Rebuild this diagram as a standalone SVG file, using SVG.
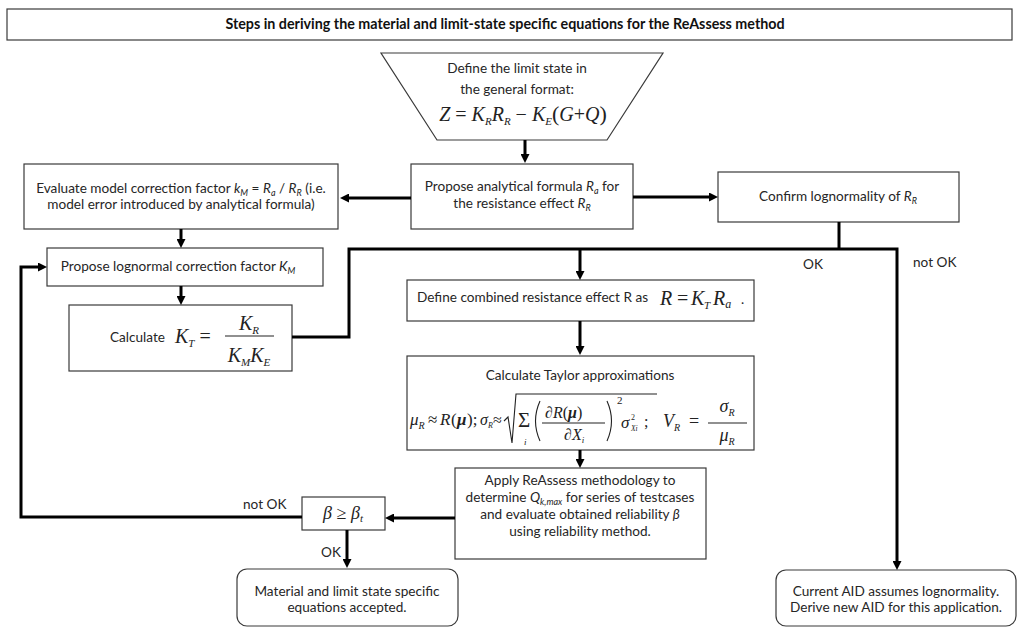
<svg xmlns="http://www.w3.org/2000/svg" width="1020" height="632" viewBox="0 0 1020 632">
<style>
.box{fill:#fff;stroke:#3a3a3a;stroke-width:1.2}
.t{font-family:Lato,"Liberation Sans",sans-serif;font-size:13.6px;fill:#262626;text-anchor:middle}
.ts{font-family:Lato,"Liberation Sans",sans-serif;font-size:13.6px;fill:#262626}
.ttl{font-family:Lato,"Liberation Sans",sans-serif;font-size:14.3px;font-weight:bold;fill:#111;text-anchor:middle}
.m{font-family:"Liberation Serif","Times New Roman",serif;font-style:italic;fill:#222}
.u{font-style:normal}
.c3{stroke:#000;stroke-width:3;fill:none}
.thin{stroke:#222;stroke-width:1.1;fill:none}
</style>
<defs>
<marker id="ah" markerUnits="userSpaceOnUse" viewBox="0 0 9 9" markerWidth="9" markerHeight="9" refX="1" refY="4.5" orient="auto">
<path d="M0,0 L9,4.5 L0,9 z" fill="#000"/>
</marker>
</defs>

<g id="title">
<rect class="box" x="7" y="9" width="1005" height="31"/>
<text class="ttl" x="505" y="29">Steps in deriving the material and limit-state specific equations for the ReAssess method</text>
</g>

<g id="n-limit-state">
<polygon class="box" points="381,53 663,53 607,140 437,140"/>
<text class="t" x="517" y="73">Define the limit state in</text>
<text class="t" x="517" y="94">the general format:</text>
<text class="m" x="523" y="121" font-size="20" text-anchor="middle">Z<tspan class="u"> = </tspan>K<tspan font-size="11" dy="4">R</tspan><tspan dy="-4">R</tspan><tspan font-size="11" dy="4">R</tspan><tspan class="u" dy="-4"> − </tspan>K<tspan font-size="11" dy="4">E</tspan><tspan class="u" dy="-4" font-size="22">(</tspan>G<tspan class="u">+</tspan>Q<tspan class="u" font-size="22">)</tspan></text>
</g>

<g id="n-analytical">
<rect class="box" x="411" y="164" width="222" height="65"/>
<text class="t" x="522" y="191">Propose analytical formula <tspan font-style="italic">R</tspan><tspan font-style="italic" font-size="9" dy="3">a</tspan><tspan dy="-3"> for</tspan></text>
<text class="t" x="522" y="208">the resistance effect <tspan font-style="italic">R</tspan><tspan font-style="italic" font-size="9" dy="3">R</tspan></text>
</g>

<g id="n-model-correction">
<rect class="box" x="24" y="164" width="314" height="65"/>
<text class="t" x="181" y="193">Evaluate model correction factor <tspan font-style="italic">k</tspan><tspan font-style="italic" font-size="9" dy="3">M</tspan><tspan dy="-3"> = </tspan><tspan font-style="italic">R</tspan><tspan font-style="italic" font-size="9" dy="3">a</tspan><tspan dy="-3"> / </tspan><tspan font-style="italic">R</tspan><tspan font-style="italic" font-size="9" dy="3">R</tspan><tspan dy="-3"> (i.e.</tspan></text>
<text class="t" x="181" y="209">model error introduced by analytical formula)</text>
</g>

<g id="n-confirm">
<rect class="box" x="718" y="172" width="241" height="50"/>
<text class="t" x="838" y="201">Confirm lognormality of <tspan font-style="italic">R</tspan><tspan font-style="italic" font-size="9" dy="3">R</tspan></text>
</g>

<g id="n-propose-km">
<rect class="box" x="47" y="248" width="276" height="38"/>
<text class="t" x="178" y="271">Propose lognormal correction factor <tspan font-style="italic">K</tspan><tspan font-style="italic" font-size="9" dy="3">M</tspan></text>
</g>

<g id="n-kt">
<rect class="box" x="69" y="305" width="223" height="66"/>
<text class="ts" x="110" y="342">Calculate</text>
<text class="m" x="175" y="343" font-size="20">K<tspan font-size="11" dy="4">T</tspan><tspan class="u" dy="-4"> =</tspan></text>
<text class="m" x="249" y="330" font-size="20" text-anchor="middle">K<tspan font-size="11" dy="4">R</tspan></text>
<line class="thin" x1="225" y1="336" x2="274" y2="336"/>
<text class="m" x="249" y="362" font-size="20" text-anchor="middle">K<tspan font-size="11" dy="4">M</tspan><tspan dy="-4">K</tspan><tspan font-size="11" dy="4">E</tspan></text>
</g>

<g id="n-combined">
<rect class="box" x="407" y="280" width="347" height="41"/>
<text class="ts" x="417" y="302">Define combined resistance effect R as</text>
<text class="m" font-size="20" y="305"><tspan x="660">R</tspan><tspan class="u" x="677">=</tspan><tspan x="691">K</tspan><tspan font-size="11" dy="4" x="704">T</tspan><tspan dy="-4" x="713">R</tspan><tspan font-size="12" dy="3">a</tspan></text>
<text class="ts" x="741" y="304">.</text>
</g>

<g id="n-taylor">
<rect class="box" x="407" y="356" width="347" height="94"/>
<text class="t" x="580" y="380">Calculate Taylor approximations</text>
<text class="m" font-size="17" y="425"><tspan x="410">μ</tspan><tspan font-size="10" dy="4">R</tspan><tspan class="u" dy="-4" x="428">≈</tspan><tspan x="440">R</tspan><tspan class="u" x="451">(</tspan><tspan font-weight="bold" x="457">μ</tspan><tspan class="u" x="467">);</tspan></text>
<text class="m" font-size="16" y="425"><tspan x="480">σ</tspan><tspan font-size="8" dy="3">R</tspan><tspan class="u" dy="-3" x="493">≈</tspan></text>
<path class="thin" d="M504,421 L508,417 L512,443 L516,394 H657"/>
<text class="m u" font-size="21" x="518" y="427">Σ</text>
<text class="m" font-size="9" x="524" y="445">i</text>
<path class="thin" d="M540,401 Q531,421 540,441"/>
<path class="thin" d="M607,401 Q616,421 607,441"/>
<text class="m" font-size="16" x="545" y="418"><tspan class="u">∂</tspan>R<tspan class="u">(</tspan><tspan font-weight="bold">μ</tspan><tspan class="u">)</tspan></text>
<line class="thin" x1="542" y1="423" x2="605" y2="423"/>
<text class="m" font-size="16" x="564" y="440"><tspan class="u">∂</tspan>X<tspan font-size="9" dy="3">i</tspan></text>
<text class="m u" font-size="11" x="617" y="404">2</text>
<text class="m" font-size="17" x="621" y="428">σ</text>
<text class="m u" font-size="8" x="631" y="420">2</text>
<text class="m" font-size="7.5" x="631" y="431">Xi</text>
<text class="m u" font-size="16" x="644" y="427">;</text>
<text class="m" font-size="18" x="663" y="427">V<tspan font-size="10" dy="4">R</tspan><tspan class="u" dy="-4" x="689">=</tspan></text>
<text class="m" font-size="18" x="727" y="412" text-anchor="middle">σ<tspan font-size="10" dy="4">R</tspan></text>
<line class="thin" x1="708" y1="423" x2="747" y2="423"/>
<text class="m" font-size="18" x="727" y="441" text-anchor="middle">μ<tspan font-size="10" dy="4">R</tspan></text>
</g>

<g id="n-apply">
<rect class="box" x="455" y="468" width="251" height="91"/>
<text class="t" x="580" y="485">Apply ReAssess methodology to</text>
<text class="t" x="580" y="502">determine <tspan font-style="italic">Q</tspan><tspan font-style="italic" font-size="9" dy="3">k,max</tspan><tspan dy="-3"> for series of testcases</tspan></text>
<text class="t" x="580" y="519">and evaluate obtained reliability <tspan font-style="italic">β</tspan></text>
<text class="t" x="580" y="536">using reliability method.</text>
</g>

<g id="n-beta">
<rect class="box" x="302" y="497" width="83" height="33"/>
<text class="m" font-size="18" x="343" y="519" text-anchor="middle">β<tspan class="u"> ≥ </tspan>β<tspan font-size="11" dy="3">t</tspan></text>
</g>

<g id="n-accepted">
<rect class="box" x="237" y="569" width="221" height="57" rx="10"/>
<text class="t" x="347" y="596">Material and limit state specific</text>
<text class="t" x="347" y="612">equations accepted.</text>
</g>

<g id="n-new-aid">
<rect class="box" x="776" y="570" width="240" height="56" rx="10"/>
<text class="t" x="896" y="596">Current AID assumes lognormality.</text>
<text class="t" x="896" y="612">Derive new AID for this application.</text>
</g>

<g id="connectors">
<line class="c3" x1="525" y1="140" x2="525" y2="155" marker-end="url(#ah)"/>
<line class="c3" x1="411" y1="198" x2="348" y2="198" marker-end="url(#ah)"/>
<line class="c3" x1="633" y1="197" x2="710" y2="197" marker-end="url(#ah)"/>
<line class="c3" x1="181" y1="229" x2="181" y2="240" marker-end="url(#ah)"/>
<line class="c3" x1="181" y1="286" x2="181" y2="297" marker-end="url(#ah)"/>
<polyline class="c3" points="292,337 349,337 349,249 897,249 897,562" marker-end="url(#ah)"/>
<line class="c3" x1="839" y1="222" x2="839" y2="249"/>
<line class="c3" x1="580" y1="249" x2="580" y2="272" marker-end="url(#ah)"/>
<line class="c3" x1="580" y1="321" x2="580" y2="347" marker-end="url(#ah)"/>
<line class="c3" x1="580" y1="450" x2="580" y2="460" marker-end="url(#ah)"/>
<line class="c3" x1="455" y1="518" x2="393" y2="518" marker-end="url(#ah)"/>
<polyline class="c3" points="302,517 21,517 21,267 39,267" marker-end="url(#ah)"/>
<line class="c3" x1="347" y1="530" x2="347" y2="560" marker-end="url(#ah)"/>
<text class="ts" x="803" y="269">OK</text>
<text class="ts" x="913" y="267">not OK</text>
<text class="ts" x="243" y="509">not OK</text>
<text class="ts" x="321" y="557">OK</text>
</g>
</svg>
